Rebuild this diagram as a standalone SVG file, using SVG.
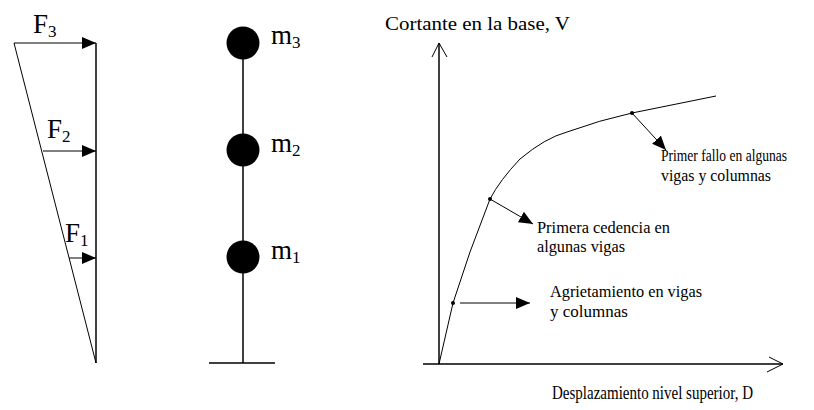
<svg xmlns="http://www.w3.org/2000/svg" width="814" height="410" viewBox="0 0 814 410">
<style>
.ln{stroke:#000;stroke-width:1.5;fill:none}
.th{stroke:#000;stroke-width:1;fill:none}
text{font-family:"Liberation Serif","DejaVu Serif","Times New Roman",serif;fill:#000}
.big{font-size:27px}
.sub{font-size:17px}
.lab{font-size:19px}
.sm{font-size:16px}
</style>
<defs>
<marker id="ah" viewBox="0 0 14 12" refX="14" refY="6" markerWidth="14" markerHeight="12" markerUnits="userSpaceOnUse" orient="auto">
<path d="M0,0 L14,6 L0,12 Z" fill="#000"/>
</marker>
</defs>
<g id="forces">
<line class="th" x1="14" y1="43" x2="96" y2="363"/>
<line class="ln" x1="96" y1="43" x2="96" y2="363"/>
<g id="F3"><line class="th" x1="14" y1="43" x2="96" y2="43" marker-end="url(#ah)"/>
<text class="big" x="33" y="33">F<tspan class="sub" dy="4">3</tspan></text></g>
<g id="F2"><line class="th" x1="43" y1="151" x2="96" y2="151" marker-end="url(#ah)"/>
<text class="big" x="47" y="138">F<tspan class="sub" dy="4">2</tspan></text></g>
<g id="F1"><line class="th" x1="69" y1="258" x2="96" y2="258" marker-end="url(#ah)"/>
<text class="big" x="65" y="242">F<tspan class="sub" dy="4">1</tspan></text></g>
</g>
<g id="masses">
<line class="ln" x1="243" y1="43" x2="243" y2="363"/>
<line class="ln" x1="209" y1="363" x2="275" y2="363"/>
<g id="m3"><circle cx="243" cy="43" r="16.5" fill="#000"/><text class="big" x="271" y="44">m<tspan class="sub" dy="4">3</tspan></text></g>
<g id="m2"><circle cx="243" cy="150" r="16.5" fill="#000"/><text class="big" x="271" y="152">m<tspan class="sub" dy="4">2</tspan></text></g>
<g id="m1"><circle cx="243" cy="257" r="16.5" fill="#000"/><text class="big" x="271" y="259">m<tspan class="sub" dy="4">1</tspan></text></g>
</g>
<g id="axes">
<line class="ln" x1="439" y1="43" x2="439" y2="364"/>
<polyline class="th" points="432,57 439,43 447,57"/>
<line class="ln" x1="423" y1="364" x2="783" y2="364"/>
<polyline class="th" points="769,357 783,364 767,372"/>
<text class="lab" x="385" y="30" textLength="185" lengthAdjust="spacingAndGlyphs">Cortante en la base, V</text>
<text class="lab" x="552" y="399" textLength="201" lengthAdjust="spacingAndGlyphs">Desplazamiento nivel superior,  D</text>
</g>
<g id="curve">
<path class="th" d="M439,364 L453,303 L470,252 L490,199 Q500,180 520,159 Q545,138 567,132 Q600,120 632,113 L716,96"/>
<circle cx="453" cy="303" r="2" fill="#000"/>
<circle cx="490" cy="199" r="2" fill="#000"/>
<circle cx="632" cy="113" r="2" fill="#000"/>
</g>
<g id="connectors">
<line class="th" x1="460" y1="303" x2="530" y2="303" marker-end="url(#ah)"/>
<line class="th" x1="490" y1="199" x2="533" y2="224" marker-end="url(#ah)"/>
<line class="th" x1="632" y1="113" x2="666" y2="150" marker-end="url(#ah)"/>
</g>
<g id="labels">
<text class="sm" x="550" y="297" textLength="152" lengthAdjust="spacingAndGlyphs">Agrietamiento en vigas</text>
<text class="sm" x="550" y="317" textLength="78" lengthAdjust="spacingAndGlyphs">y columnas</text>
<text class="sm" x="537" y="233" textLength="133" lengthAdjust="spacingAndGlyphs">Primera cedencia en</text>
<text class="sm" x="537" y="252" textLength="88" lengthAdjust="spacingAndGlyphs">algunas vigas</text>
<text class="sm" x="661" y="161" textLength="126" lengthAdjust="spacingAndGlyphs">Primer fallo en algunas</text>
<text class="sm" x="661" y="181" textLength="110" lengthAdjust="spacingAndGlyphs">vigas y columnas</text>
</g>
</svg>
